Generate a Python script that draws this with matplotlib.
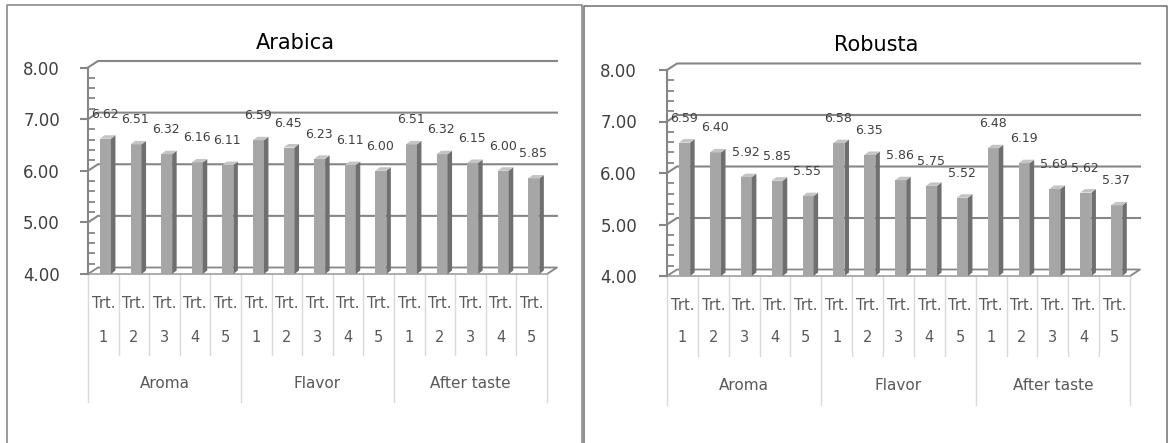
import numpy as np
import matplotlib
matplotlib.use('Agg')
import matplotlib.pyplot as plt
from matplotlib.patches import Polygon
from matplotlib.lines import Line2D
from matplotlib.ticker import MultipleLocator
import matplotlib.transforms as mtransforms

# Sensory scores per attribute, five treatments each
groups = ['Aroma', 'Flavor', 'After taste']
treatments = ['1', '2', '3', '4', '5']

arabica_aroma = [6.62, 6.51, 6.32, 6.16, 6.11]
arabica_flavor = [6.59, 6.45, 6.23, 6.11, 6.00]
arabica_after = [6.51, 6.32, 6.15, 6.00, 5.85]

robusta_aroma = [6.59, 6.40, 5.92, 5.85, 5.55]
robusta_flavor = [6.58, 6.35, 5.86, 5.75, 5.52]
robusta_after = [6.48, 6.19, 5.69, 5.62, 5.37]

y_ticks = [4, 5, 6, 7, 8]

W, H = 1169, 443
fig = plt.figure(figsize=(W / 100, H / 100), dpi=100)
plt.rcParams['font.family'] = ['DejaVu Sans']

PT = 0.72  # points per pixel at 100 dpi
GRID = '#868686'


def add_axes_px(x0, y_top, x1, y_bottom):
    return fig.add_axes([x0 / W, (H - y_bottom) / H, (x1 - x0) / W, (y_bottom - y_top) / H])


def draw_panel(ax, values, lab_off):
    n = len(values)
    x = np.arange(n)
    ax.set_xlim(-0.5, n - 0.5)
    ax.set_ylim(4, 8)
    pos = ax.get_position()
    wpx, hpx = pos.width * W, pos.height * H
    ux, uy = wpx / n, hpx / 4.0

    # back wall gridlines with the short side-wall segment
    bx, by = 10 / ux, 6.5 / uy
    for v in y_ticks[1:]:
        ax.plot([-0.5, -0.5 + bx, n - 0.5 + bx], [v, v + by, v + by],
                color=GRID, lw=1.5, clip_on=False, zorder=1)
    # floor
    ax.plot([-0.5, -0.5 + bx, n - 0.5 + bx, n - 0.5], [4, 4 + by, 4 + by, 4],
            color=GRID, lw=1.3, clip_on=False, zorder=1)
    ax.plot([-0.5, n - 0.5], [4, 4], color='#a6a6a6', lw=1.3, clip_on=False, zorder=1)

    # 3d columns: front face, side and top
    width = 0.36
    shift = 0.07
    ax.bar(x + shift, np.array(values) - 4, bottom=4, width=width,
           color='#a6a6a6', edgecolor='none', zorder=3)
    sx, sy = 4.5 / ux, 3.5 / uy
    for xi, v in zip(x, values):
        xl = xi + shift - width / 2
        xr = xi + shift + width / 2
        ax.add_patch(Polygon([(xr, 4), (xr, v), (xr + sx, v + sy), (xr + sx, 4 + sy)],
                             closed=True, facecolor='#6f6f6f', edgecolor='none', zorder=3))
        ax.add_patch(Polygon([(xl, v), (xr, v), (xr + sx, v + sy), (xl + sx, v + sy)],
                             closed=True, facecolor='#c4c4c4', edgecolor='none', zorder=3))
        ax.annotate(f"{v:.2f}", (xi, v), xytext=(1.5 * PT, 24.5 * PT),
                    textcoords='offset points', ha='center', va='center',
                    fontsize=9, color='#404040', zorder=5, annotation_clip=False)

    # value axis
    for s in ['top', 'right', 'bottom']:
        ax.spines[s].set_visible(False)
    ax.spines['left'].set_color(GRID)
    ax.spines['left'].set_linewidth(1.5)
    ax.set_yticks(y_ticks)
    ax.set_yticklabels([f"{t:.2f}" for t in y_ticks])
    ax.yaxis.set_minor_locator(MultipleLocator(0.2))
    ax.tick_params(axis='y', which='major', length=8 * PT, width=1.5, color=GRID,
                   pad=lab_off['pad'] * PT, labelsize=12, labelcolor='#404040')
    ax.tick_params(axis='y', which='minor', direction='in', length=7 * PT,
                   width=1.3, color=GRID)
    ax.set_xticks([])
    ax.patch.set_alpha(0)

    # multi-level category labels
    lab_tr = mtransforms.blended_transform_factory(ax.transData, ax.transAxes)
    for i in range(n):
        ax.annotate('Trt.', (i, 0), xycoords=lab_tr, xytext=(0, -lab_off['trt'] * PT),
                    textcoords='offset points', ha='center', va='center',
                    fontsize=10.5, color='#595959', annotation_clip=False)
        ax.annotate(treatments[i % 5], (i, 0), xycoords=lab_tr,
                    xytext=(0, -lab_off['num'] * PT), textcoords='offset points',
                    ha='center', va='center', fontsize=10.5, color='#595959',
                    annotation_clip=False)
    for g, name in enumerate(groups):
        ax.annotate(name, (g * 5 + 2, 0), xycoords=lab_tr,
                    xytext=(0, -lab_off['grp'] * PT), textcoords='offset points',
                    ha='center', va='center', fontsize=11, color='#595959',
                    annotation_clip=False)
    for b in range(n + 1):
        length = lab_off['outer'] if b % 5 == 0 else lab_off['inner']
        ax.plot([b - 0.5, b - 0.5], [0, -length / hpx], transform=lab_tr,
                color='#d9d9d9', lw=1, clip_on=False, zorder=0)


arabica = arabica_aroma + arabica_flavor + arabica_after
robusta = robusta_aroma + robusta_flavor + robusta_after

ax1 = add_axes_px(88, 67.5, 547, 274)
draw_panel(ax1, arabica, dict(pad=20, trt=29, num=63, grp=109, inner=81, outer=128))

ax2 = add_axes_px(667, 70, 1130, 276)
draw_panel(ax2, robusta, dict(pad=22, trt=29, num=62, grp=110, inner=80, outer=129))

fig.text(295 / W, 1 - 43 / H, 'Arabica', ha='center', va='center', fontsize=15, color='black')
fig.text(876 / W, 1 - 45 / H, 'Robusta', ha='center', va='center', fontsize=15, color='black')

# chart frames
def frame(x0, y0, x1, color):
    xs = [x0 / W, x0 / W, x1 / W, x1 / W]
    ys = [0, 1 - y0 / H, 1 - y0 / H, 0]
    fig.add_artist(Line2D(xs, ys, transform=fig.transFigure, color=color, lw=1.2))

frame(7, 5, 582, '#8a8a8a')
frame(584, 6, 1167, '#7a7a7a')

fig.savefig('out.png', dpi=100)
